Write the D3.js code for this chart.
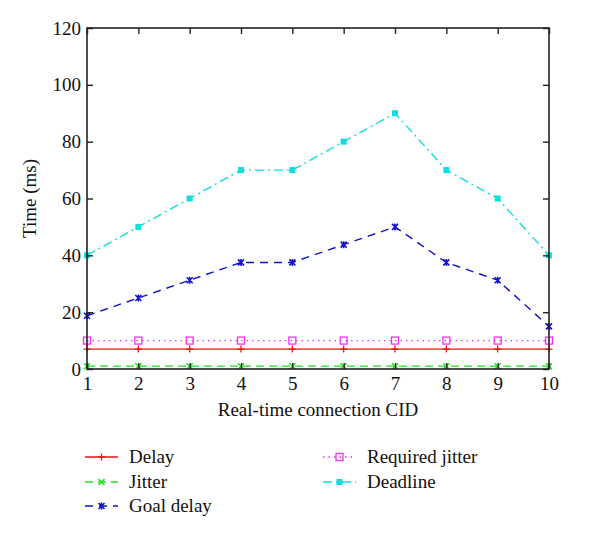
<!DOCTYPE html>
<html><head><meta charset="utf-8">
<script src="https://cdn.jsdelivr.net/npm/d3@7"></script>
<style>body{margin:0;background:#fff}svg{display:block}</style>
</head><body><svg id="c" width="600" height="539"></svg>
<script>
const cids = [1,2,3,4,5,6,7,8,9,10];
const delay = [7,7,7,7,7,7,7,7,7,7];
const jitter = [1,1,1,1,1,1,1,1,1,1];
const goalDelay = [18.75,25,31.25,37.5,37.5,43.75,50,37.5,31.25,15];
const requiredJitter = [10,10,10,10,10,10,10,10,10,10];
const deadline = [40,50,60,70,70,80,90,70,60,40];
const yTicks = [0,20,40,60,80,100,120];
const xTicks = [1,2,3,4,5,6,7,8,9,10];

const series = [
  {name:"Delay", values:delay, color:"#ee1111", dash:null, marker:"plus"},
  {name:"Jitter", values:jitter, color:"#22dd22", dash:"8,5", marker:"cross"},
  {name:"Goal delay", values:goalDelay, color:"#1111cc", dash:"8,6", marker:"star"},
  {name:"Required jitter", values:requiredJitter, color:"#ee33ee", dash:"1.5,4", marker:"square"},
  {name:"Deadline", values:deadline, color:"#11dddd", dash:"9,4,2,4", marker:"fsquare"}
];
const FONT = "'Liberation Serif', 'Times New Roman', 'DejaVu Serif', serif";

const svg = d3.select("#c");
const L=87, R=549, T=28, B=369;
const x = d3.scaleLinear().domain([1,10]).range([L,R]);
const y = d3.scaleLinear().domain([0,120]).range([B,T]);

const line = d3.line().x((d,i)=>x(cids[i])).y(d=>y(d));
function marker(g, type, cx, cy, color){
  if(type==="plus"){
    g.append("line").attr("x1",cx).attr("x2",cx).attr("y1",cy-3.5).attr("y2",cy+3.5).attr("stroke",color).attr("stroke-width",1.3);
    g.append("line").attr("x1",cx-3.5).attr("x2",cx+3.5).attr("y1",cy).attr("y2",cy).attr("stroke",color).attr("stroke-width",1.3);
  } else if(type==="cross"){
    g.append("path").attr("d",`M${cx-3},${cy-3}L${cx+3},${cy+3}M${cx-3},${cy+3}L${cx+3},${cy-3}`).attr("stroke",color).attr("stroke-width",1.5);
  } else if(type==="star"){
    g.append("path").attr("d",`M${cx-3},${cy-3}L${cx+3},${cy+3}M${cx-3},${cy+3}L${cx+3},${cy-3}M${cx},${cy-3.5}L${cx},${cy+3.5}`).attr("stroke",color).attr("stroke-width",1.6);
  } else if(type==="square"){
    g.append("rect").attr("x",cx-3.5).attr("y",cy-3.5).attr("width",7).attr("height",7).attr("fill","none").attr("stroke",color).attr("stroke-width",1.3);
  } else if(type==="fsquare"){
    g.append("rect").attr("x",cx-3).attr("y",cy-3).attr("width",6).attr("height",6).attr("fill",color);
  }
}
series.forEach(s=>{
  const g = svg.append("g");
  g.append("path").attr("d",line(s.values)).attr("fill","none").attr("stroke",s.color)
    .attr("stroke-width",1.4).attr("stroke-dasharray",s.dash);
  s.values.forEach((v,i)=>marker(g,s.marker,x(cids[i]),y(v),s.color));
});

svg.append("rect").attr("x",L).attr("y",T).attr("width",R-L).attr("height",B-T)
  .attr("fill","none").attr("stroke","#222").attr("stroke-width",1.6);

const axL = d3.axisLeft(y).tickValues(yTicks).tickSize(-6).tickPadding(6);
const axR = d3.axisRight(y).tickValues(yTicks).tickSize(-6).tickFormat("");
const axB = d3.axisBottom(x).tickValues(xTicks).tickSize(-6).tickPadding(8);
const axT = d3.axisTop(x).tickValues(xTicks).tickSize(-6).tickFormat("");
function style(g){
  g.select(".domain").remove();
  g.selectAll(".tick line").attr("stroke","#222").attr("stroke-width",1.4);
  g.selectAll(".tick text").attr("fill","#111").style("font-family",FONT).style("font-size","19px");
}
svg.append("g").attr("transform",`translate(${L},0)`).call(axL).call(style);
svg.append("g").attr("transform",`translate(${R},0)`).call(axR).call(style);
svg.append("g").attr("transform",`translate(0,${B})`).call(axB).call(style);
svg.append("g").attr("transform",`translate(0,${T})`).call(axT).call(style);

svg.append("text").attr("transform",`translate(36,${(T+B)/2}) rotate(-90)`).attr("text-anchor","middle")
  .style("font-family",FONT).style("font-size","19px").attr("fill","#111").text("Time (ms)");
svg.append("text").attr("x",(L+R)/2).attr("y",416).attr("text-anchor","middle")
  .style("font-family",FONT).style("font-size","19px").attr("fill","#111").text("Real-time connection CID");

const legPos = [[85,457],[85,482],[85,506],[323,457],[323,482]];
series.forEach((s,i)=>{
  const [lx,ly] = legPos[i];
  const g = svg.append("g");
  g.append("line").attr("x1",lx).attr("x2",lx+33).attr("y1",ly).attr("y2",ly).attr("stroke",s.color)
    .attr("stroke-width",1.4).attr("stroke-dasharray",s.dash);
  marker(g,s.marker,lx+16.5,ly,s.color);
  g.append("text").attr("x",lx+44).attr("y",ly+6).style("font-family",FONT).style("font-size","19px")
    .attr("fill","#111").text(s.name);
});
</script></body></html>
